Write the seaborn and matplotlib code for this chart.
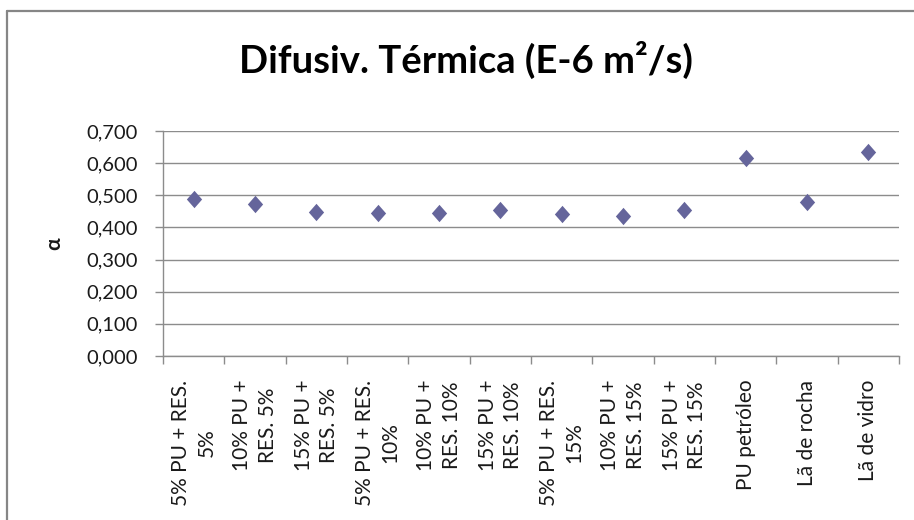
import matplotlib
matplotlib.use("Agg")
import matplotlib.pyplot as plt
from matplotlib.lines import Line2D
from matplotlib.ticker import FixedLocator, FuncFormatter
import seaborn as sns
import pandas as pd

# Thermal diffusivity per sample (E-6 m²/s)
categorias = [
    "5% PU + RES.\n5%",
    "10% PU +\nRES. 5%",
    "15% PU +\nRES. 5%",
    "5% PU + RES.\n10%",
    "10% PU +\nRES. 10%",
    "15% PU +\nRES. 10%",
    "5% PU + RES.\n15%",
    "10% PU +\nRES. 15%",
    "15% PU +\nRES. 15%",
    "PU petróleo",
    "Lã de rocha",
    "Lã de vidro",
]
difusividade = [0.488, 0.473, 0.448, 0.445, 0.446, 0.455, 0.443, 0.436, 0.454, 0.616, 0.478, 0.634]
y_ticks = [0.0, 0.1, 0.2, 0.3, 0.4, 0.5, 0.6, 0.7]

df = pd.DataFrame({"amostra": categorias, "alpha": difusividade})

sns.set_theme(style="white")
plt.rcParams["font.family"] = ["Lato", "DejaVu Sans"]

W, H = 914, 520
fig = plt.figure(figsize=(W / 100, H / 100), dpi=100)
ax = fig.add_axes([163 / W, 1 - 356 / H, 736 / W, 225 / H])

diamond = [(0, 1), (0.88, 0), (0, -1), (-0.88, 0)]
sns.stripplot(data=df, x="amostra", y="alpha", jitter=False, ax=ax,
              color="#65659B", marker=diamond, size=12.5, linewidth=0, zorder=3)

ax.set_xlim(-0.5, len(categorias) - 0.5)
ax.set_ylim(0, 0.7)
ax.yaxis.set_major_locator(FixedLocator(y_ticks))
ax.yaxis.set_major_formatter(FuncFormatter(lambda v, p: f"{v:.3f}".replace(".", ",")))

grid_c = "#8C8C8C"
ax.grid(axis="y", color=grid_c, linewidth=1.0)
ax.grid(axis="x", visible=False)
for s in ["top", "right"]:
    ax.spines[s].set_visible(False)
for s in ["left", "bottom"]:
    ax.spines[s].set_color(grid_c)
    ax.spines[s].set_linewidth(1.0)

ax.set_xticks(range(len(categorias)))
ax.set_xticklabels(categorias, rotation=90, ha="center", va="top",
                   multialignment="center", linespacing=1.35)
ax.set_xticks([i - 0.5 for i in range(len(categorias) + 1)], minor=True)
ax.tick_params(axis="x", which="major", length=0, pad=17, labelsize=15, labelcolor="#1a1a1a")
ax.tick_params(axis="x", which="minor", bottom=True, length=6, width=1, color=grid_c)
ax.tick_params(axis="y", left=True, length=6, width=1, color=grid_c, pad=12,
               labelsize=14.5, labelcolor="#1a1a1a")

ax.set_xlabel("")
ax.set_ylabel("α", fontsize=15, fontweight="bold", labelpad=16, color="#1a1a1a")

fig.text(466 / W, 1 - 60 / H, "Difusiv. Térmica (E-6 m²/s)", ha="center", va="center",
         fontsize=27.5, fontweight="bold", color="black")

# chart-area frame
fig.add_artist(Line2D([7 / W, 7 / W], [0, 1 - 11 / H], transform=fig.transFigure,
                      color="#868686", linewidth=1.6))
fig.add_artist(Line2D([7 / W, 1], [1 - 11 / H, 1 - 11 / H], transform=fig.transFigure,
                      color="#868686", linewidth=1.6))

fig.savefig("out.png", dpi=100)
